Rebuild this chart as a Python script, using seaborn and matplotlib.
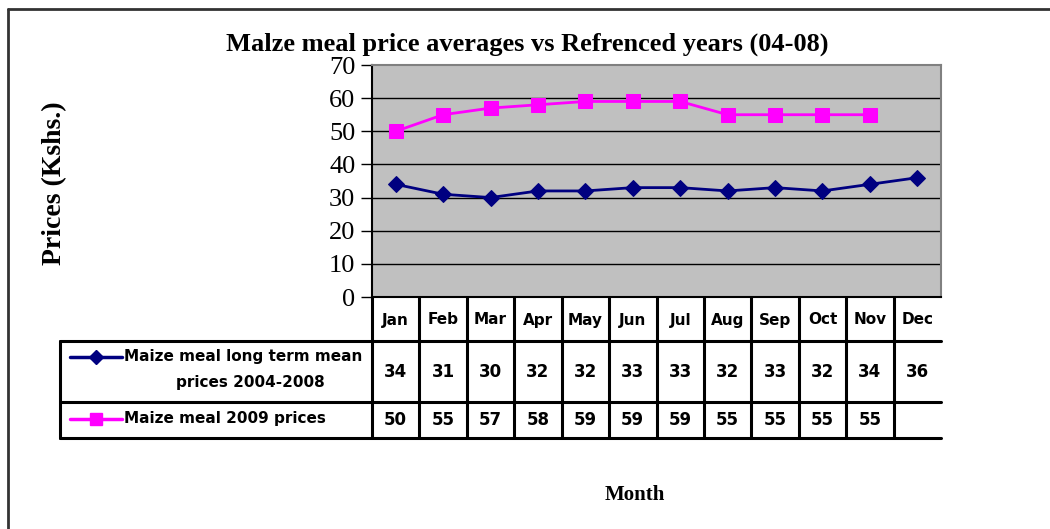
import numpy as np
import pandas as pd
import matplotlib
matplotlib.use("Agg")
import matplotlib.pyplot as plt
import matplotlib.transforms as mtransforms
from matplotlib.lines import Line2D
import seaborn as sns

months = ['Jan', 'Feb', 'Mar', 'Apr', 'May', 'Jun', 'Jul', 'Aug', 'Sep', 'Oct', 'Nov', 'Dec']
long_term = [34, 31, 30, 32, 32, 33, 33, 32, 33, 32, 34, 36]
prices_2009 = [50, 55, 57, 58, 59, 59, 59, 55, 55, 55, 55, np.nan]
series_names = ['Maize meal long term mean', 'prices 2004-2008', 'Maize meal 2009 prices']
y_ticks = [0, 10, 20, 30, 40, 50, 60, 70]

sns.set_style("white")
plt.rcParams['font.family'] = ['Liberation Serif', 'DejaVu Serif']
plt.rcParams['text.color'] = 'black'
plt.rcParams['ytick.color'] = 'black'
plt.rcParams['ytick.labelcolor'] = 'black'

W, H = 1050, 529
fig = plt.figure(figsize=(W / 100, H / 100), dpi=100)


def fx(px):
    return px / W


def fy(py):
    return 1 - py / H


# plot area in pixels
left, right, top, bottom = 372, 941, 65, 297
ax = fig.add_axes([fx(left), fy(bottom), fx(right - left), fy(top) - fy(bottom)])
ax.set_facecolor('#C0C0C0')

df = pd.DataFrame({'pos': np.arange(len(months)), 'lt': long_term, 'p09': prices_2009})
sns.lineplot(data=df, x='pos', y='lt', ax=ax, color='#000080', marker='D',
             markersize=8, markeredgecolor='#000080', linewidth=2)
sns.lineplot(data=df.dropna(), x='pos', y='p09', ax=ax, color='#FF00FF', marker='s',
             markersize=10, markeredgecolor='#FF00FF', linewidth=2)

ax.set_xlim(-0.5, len(months) - 0.5)
ax.set_ylim(0, 70)
ax.set_yticks(y_ticks)
ax.set_yticklabels([str(t) for t in y_ticks], fontsize=19)
ax.set_xticks([])
ax.set_xlabel('')
ax.set_ylabel('')
for v in y_ticks[1:-1]:
    ax.axhline(v, color='black', linewidth=1, zorder=1)
ax.tick_params(axis='y', direction='out', length=8, width=1, color='black', pad=4, left=True)
ax.spines['left'].set_color('black')
ax.spines['bottom'].set_color('black')
ax.spines['top'].set_color('#808080')
ax.spines['right'].set_color('#808080')
for s in ax.spines.values():
    s.set_linewidth(1.5)

# data table under the plot
tr = mtransforms.blended_transform_factory(ax.transData, fig.transFigure)
row_h = [297, 341, 402, 438]
lw = 2.2
edges = np.arange(len(months) + 1) - 0.5
for e in edges[:-1]:
    fig.add_artist(Line2D([e, e], [fy(row_h[0]), fy(row_h[-1])], transform=tr, color='black', lw=lw))
for yy in row_h[1:]:
    fig.add_artist(Line2D([fx(60), fx(right)], [fy(yy), fy(yy)], transform=fig.transFigure,
                          color='black', lw=lw))
fig.add_artist(Line2D([fx(60), fx(60)], [fy(row_h[1]), fy(row_h[-1])], transform=fig.transFigure,
                      color='black', lw=lw))

tfont = dict(family='DejaVu Sans', fontweight='bold')
for i, m in enumerate(months):
    fig.text(i, fy(320), m, transform=tr, ha='center', va='center', fontsize=11, **tfont)
    fig.text(i, fy(372), str(long_term[i]), transform=tr, ha='center', va='center',
             fontsize=12, **tfont)
    if not np.isnan(prices_2009[i]):
        fig.text(i, fy(420), str(int(prices_2009[i])), transform=tr, ha='center', va='center',
                 fontsize=12, **tfont)

# legend keys inside table
fig.add_artist(Line2D([fx(70), fx(96), fx(122)], [fy(357)] * 3, transform=fig.transFigure,
                      color='#000080', lw=2.5, marker='D', markersize=7, markevery=[1]))
fig.add_artist(Line2D([fx(70), fx(96), fx(122)], [fy(419)] * 3, transform=fig.transFigure,
                      color='#FF00FF', lw=2.5, marker='s', markersize=9, markevery=[1]))
fig.text(fx(124), fy(357), series_names[0], ha='left', va='center', fontsize=11, **tfont)
fig.text(fx(250), fy(382), series_names[1], ha='center', va='center', fontsize=11, **tfont)
fig.text(fx(124), fy(419), series_names[2], ha='left', va='center', fontsize=11, **tfont)

# titles
fig.text(fx(527), fy(44), 'Malze meal price averages vs Refrenced years (04-08)',
         ha='center', va='center', fontsize=19, fontweight='bold')
fig.text(fx(55), fy(183), 'Prices (Kshs.)', rotation=90, ha='center', va='center',
         fontsize=20, fontweight='bold')
fig.text(fx(635), fy(495), 'Month', ha='center', va='center', fontsize=15, fontweight='bold')

# chart frame
fig.add_artist(Line2D([fx(8), fx(8)], [fy(9), 0], transform=fig.transFigure, color='#333333', lw=2))
fig.add_artist(Line2D([fx(8), 1], [fy(9), fy(9)], transform=fig.transFigure, color='#333333', lw=2))

fig.savefig('out.png', dpi=100, facecolor='white')
